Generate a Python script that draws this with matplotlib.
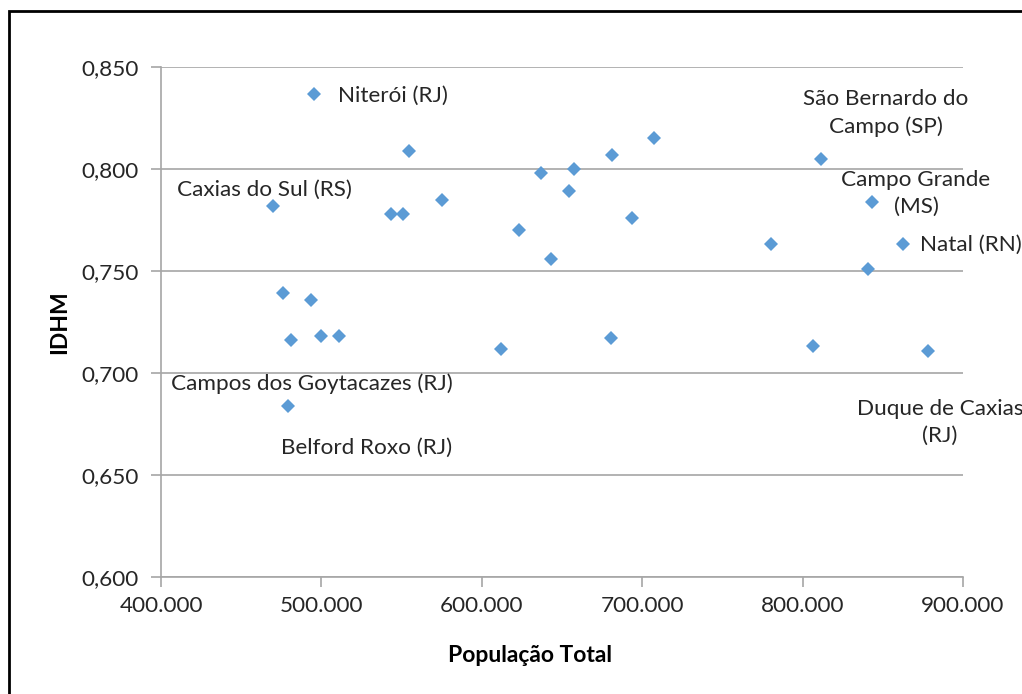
import matplotlib
matplotlib.use("Agg")
import matplotlib.pyplot as plt
from matplotlib.patches import Rectangle
from matplotlib.ticker import FuncFormatter

plt.rcParams['font.family'] = ['Lato', 'DejaVu Sans']

# População total x IDHM dos municípios
populacao = [495400, 554600, 469800, 543400, 550900, 575200, 476100, 493500,
             481000, 499800, 511000, 479200, 612000, 623200, 636900, 657500,
             654400, 643100, 681200, 707400, 693600, 680500, 780300, 811500,
             843300, 862600, 840800, 806500, 878200]
idhm = [0.837, 0.809, 0.782, 0.778, 0.778, 0.785, 0.739, 0.736,
        0.716, 0.718, 0.718, 0.684, 0.712, 0.770, 0.798, 0.800,
        0.789, 0.756, 0.807, 0.815, 0.776, 0.717, 0.763, 0.805,
        0.784, 0.763, 0.751, 0.713, 0.711]

# rótulos: índice do ponto, texto, deslocamento (px), alinhamento
rotulos = [
    (0, "Niterói (RJ)", (24, -2), "left"),
    (2, "Caxias do Sul (RS)", (-9, 16), "center"),
    (23, "São Bernardo do\nCampo (SP)", (65, 46), "center"),
    (24, "Campo Grande\n(MS)", (44, 8), "center"),
    (25, "Natal (RN)", (17, 0), "left"),
    (28, "Duque de Caxias\n(RJ)", (12, -72), "center"),
    (8, "Campos dos Goytacazes (RJ)", (21, -43), "center"),
    (11, "Belford Roxo (RJ)", (79, -42), "center"),
]

W, H = 1022, 694
fig = plt.figure(figsize=(W / 100, H / 100), dpi=100)
ax = fig.add_axes([161 / W, 1 - 577 / H, (963 - 161) / W, (577 - 67) / H])

ax.plot(populacao, idhm, linestyle="none", marker="D", markersize=7.4,
        color="#5B9BD5", markeredgewidth=0, zorder=3)

for i, txt, off, ha in rotulos:
    ax.annotate(txt, (populacao[i], idhm[i]), xytext=off,
                textcoords="offset pixels", ha=ha, va="center",
                multialignment="center", fontsize=16.2, color="#262626",
                linespacing=1.45, annotation_clip=False)

ax.set_xlim(400000, 900000)
ax.set_ylim(0.600, 0.850)
ax.set_xticks(range(400000, 900001, 100000))
ax.set_yticks([0.600, 0.650, 0.700, 0.750, 0.800, 0.850])
ax.xaxis.set_major_formatter(FuncFormatter(lambda v, p: f"{int(v):,}".replace(",", ".")))
ax.yaxis.set_major_formatter(FuncFormatter(lambda v, p: f"{v:.3f}".replace(".", ",")))

grid_c = "#a6a6a6"
ax.grid(axis="y", color=grid_c, linewidth=1.2)
ax.set_axisbelow(True)
for s in ["top", "right"]:
    ax.spines[s].set_visible(False)
for s in ["left", "bottom"]:
    ax.spines[s].set_color(grid_c)
    ax.spines[s].set_linewidth(1.2)
ax.tick_params(axis="both", color=grid_c, width=1.2, length=7,
               labelsize=16.2, labelcolor="#262626")
ax.tick_params(axis="y", pad=9)
ax.tick_params(axis="x", pad=7)

fig.text(530 / W, 1 - 655 / H, "População Total", ha="center", va="center",
         fontsize=16.5, fontweight="bold")
fig.text(60 / W, 1 - 322 / H, "IDHM", ha="center", va="center",
         fontsize=16.5, fontweight="bold", rotation=90)

# moldura do gráfico
fig.patches.append(Rectangle((9 / W, -0.1), 1.1, 1 - 11 / H + 0.1,
                             transform=fig.transFigure, fill=False,
                             edgecolor="black", linewidth=2))

fig.savefig("out.png", dpi=100)
